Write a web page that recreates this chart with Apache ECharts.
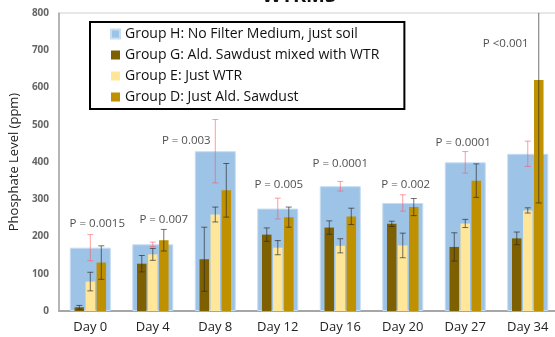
<!DOCTYPE html>
<html>
<head>
<meta charset="utf-8">
<script src="https://cdn.jsdelivr.net/npm/echarts@6/dist/echarts.min.js"></script>
<style>
html,body{margin:0;padding:0;overflow:hidden;background:#fff;}
#c{width:580px;height:337px;}
</style>
</head>
<body>
<div id="c"></div>
<script>
var days = ['Day 0','Day 4','Day 8','Day 12','Day 16','Day 20','Day 27','Day 34'];
var groupH = [170, 179, 429, 275, 335, 290, 399, 422];
var groupHErr = [35, 6, 85, 28, 13, 22, 29, 34];
var groupG = [10, 127, 139, 205, 224, 234, 172, 195];
var groupGErr = [5, 22, 86, 18, 18, 7, 38, 17];
var groupE = [79, 152, 259, 170, 175, 176, 235, 270];
var groupEErr = [25, 16, 20, 19, 19, 33, 11, 7];
var groupD = [130, 190, 324, 252, 254, 279, 350, 620];
var groupDErr = [45, 29, 72, 27, 22, 23, 45, 330];
var pLabels = ['P = 0.0015','P = 0.007','P = 0.003','P = 0.005','P = 0.0001','P = 0.002','P = 0.0001','P <0.001'];
var pLabelLevel = [233, 246, 457, 340, 396, 340, 452, 718];
var yTicks = [0, 100, 200, 300, 400, 500, 600, 700, 800];

var names = ['Group H: No Filter Medium, just soil','Group G: Ald. Sawdust mixed with WTR','Group E: Just WTR','Group D: Just Ald. Sawdust'];
var colors = ['#9dc3e6','#7f6000','#ffe699','#bf9000'];
var pOffsets = [7, 11, -29, 1, 0, 3, -2, -22];

function errSeries(vals, errs, axisIdx, offset, color) {
  return {
    type: 'custom',
    xAxisIndex: axisIdx,
    clip: true,
    z: 10,
    silent: true,
    data: vals.map(function (v, i) { return [i, v, errs[i]]; }),
    renderItem: function (params, api) {
      var i = api.value(0), v = api.value(1), e = api.value(2);
      var top = api.coord([i, v + e]);
      var bot = api.coord([i, v - e]);
      var x = top[0] + offset;
      var w = 3;
      var st = { stroke: color, lineWidth: 1 };
      return {
        type: 'group',
        children: [
          { type: 'line', shape: { x1: x, y1: top[1], x2: x, y2: bot[1] }, style: st },
          { type: 'line', shape: { x1: x - w, y1: top[1], x2: x + w, y2: top[1] }, style: st },
          { type: 'line', shape: { x1: x - w, y1: bot[1], x2: x + w, y2: bot[1] }, style: st }
        ]
      };
    }
  };
}

var chart = echarts.init(document.getElementById('c'), null, { renderer: 'canvas' });
var darkErr = 'rgba(40,40,40,0.65)';
var option = {
  animation: false,
  title: {
    text: 'WTRMS',
    left: 257,
    top: -19,
    textStyle: { fontSize: 20, fontWeight: 'bold', color: '#111', fontFamily: 'Open Sans' }
  },
  grid: { left: 56, right: 21, top: 13, bottom: 26, show: true, borderColor: '#cfcfcf', borderWidth: 1 },
  legend: {
    orient: 'vertical',
    left: 90,
    top: 22,
    data: names,
    itemWidth: 9,
    itemHeight: 9,
    itemGap: 7,
    padding: [5, 25, 5, 20],
    borderColor: '#000',
    borderWidth: 2,
    backgroundColor: '#fff',
    icon: 'rect',
    textStyle: { fontSize: 14, color: '#111', fontFamily: 'Open Sans' }
  },
  xAxis: [
    {
      type: 'category',
      data: days,
      axisLine: { lineStyle: { color: '#a6a6a6', width: 2 } },
      axisTick: { show: false },
      axisLabel: { fontSize: 13, color: '#222', margin: 10, fontFamily: 'Open Sans' }
    },
    { type: 'category', data: days, show: false }
  ],
  yAxis: {
    type: 'value',
    min: yTicks[0],
    max: yTicks[yTicks.length - 1],
    interval: 100,
    name: 'Phosphate Level (ppm)',
    nameLocation: 'middle',
    nameGap: 32,
    nameTextStyle: { fontSize: 13, color: '#222', fontFamily: 'Open Sans' },
    axisLine: { show: true, lineStyle: { color: '#a6a6a6', width: 1.5 } },
    axisTick: { show: false },
    splitLine: { show: false },
    axisLabel: { fontSize: 10, color: '#666', fontWeight: 'bold', margin: 10, fontFamily: 'Open Sans' }
  },
  series: [
    { name: names[0], type: 'bar', xAxisIndex: 0, data: groupH, barWidth: 41, itemStyle: { color: colors[0], borderColor: '#c6ddf2', borderWidth: 1 }, z: 1 },
    { name: names[1], type: 'bar', xAxisIndex: 1, data: groupG, barWidth: 9.5, barGap: '16%', itemStyle: { color: colors[1] }, z: 3 },
    { name: names[2], type: 'bar', xAxisIndex: 1, data: groupE, barWidth: 9.5, barGap: '16%', itemStyle: { color: colors[2] }, z: 3 },
    { name: names[3], type: 'bar', xAxisIndex: 1, data: groupD, barWidth: 9.5, barGap: '16%', itemStyle: { color: colors[3] }, z: 3 },
    errSeries(groupH, groupHErr, 0, 0, 'rgba(255,90,100,0.6)'),
    errSeries(groupG, groupGErr, 1, -11, darkErr),
    errSeries(groupE, groupEErr, 1, 0, darkErr),
    errSeries(groupD, groupDErr, 1, 11, darkErr),
    {
      type: 'scatter',
      xAxisIndex: 0,
      symbolSize: 0,
      silent: true,
      z: 12,
      data: pLabelLevel.map(function (v, i) {
        return { value: [i, v], label: { offset: [pOffsets[i], 0] } };
      }),
      label: {
        show: true,
        position: 'inside',
        fontSize: 11.5,
        color: '#222',
        fontFamily: 'Open Sans',
        formatter: function (p) { return pLabels[p.dataIndex]; }
      }
    }
  ]
};
chart.setOption(option);
</script>
</body>
</html>
